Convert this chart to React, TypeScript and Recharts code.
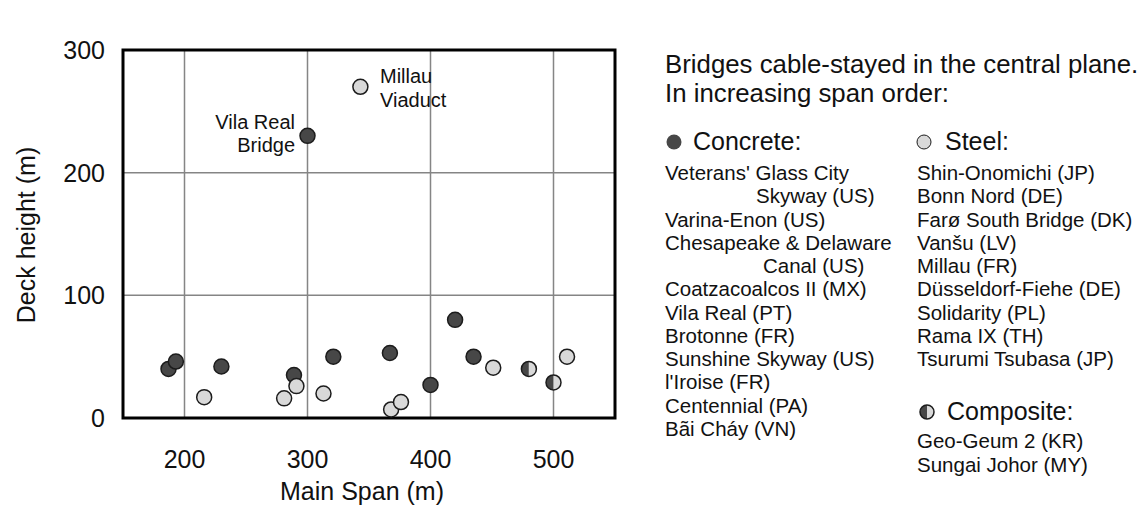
import React from "react";
import {
  ScatterChart,
  Scatter,
  XAxis,
  YAxis,
  CartesianGrid,
  ReferenceArea,
} from "recharts";

const FONT = '"Liberation Sans", Arial, sans-serif';
const DARK = "#474747";
const LIGHT = "#d9d9d9";
const EDGE = "#1c1c1c";

// main span (m) / deck height (m)
const concreteSpan = [187, 193, 230, 289, 300, 321, 367, 400, 420, 435];
const concreteHeight = [40, 46, 42, 35, 230, 50, 53, 27, 80, 50];
const steelSpan = [216, 281, 291, 313, 343, 368, 376, 451, 511];
const steelHeight = [17, 16, 26, 20, 270, 7, 13, 41, 50];
const compositeSpan = [480, 500];
const compositeHeight = [40, 29];

const xTicks = [200, 300, 400, 500];
const yTicks = [0, 100, 200, 300];

const concreteNames = [
  "Veterans' Glass City",
  "Varina-Enon (US)",
  "Chesapeake & Delaware",
  "Coatzacoalcos II (MX)",
  "Vila Real (PT)",
  "Brotonne (FR)",
  "Sunshine Skyway (US)",
  "l'Iroise (FR)",
  "Centennial (PA)",
  "Bãi Cháy (VN)",
];
const steelNames = [
  "Shin-Onomichi (JP)",
  "Bonn Nord (DE)",
  "Farø South Bridge (DK)",
  "Vanšu (LV)",
  "Millau (FR)",
  "Düsseldorf-Fiehe (DE)",
  "Solidarity (PL)",
  "Rama IX (TH)",
  "Tsurumi Tsubasa (JP)",
];
const compositeNames = ["Geo-Geum 2 (KR)", "Sungai Johor (MY)"];

const toPoints = (xs: number[], ys: number[]) =>
  xs.map((span, i) => ({ span, height: ys[i] }));

const concreteData = toPoints(concreteSpan, concreteHeight);
const steelData = toPoints(steelSpan, steelHeight);
const compositeData = toPoints(compositeSpan, compositeHeight);

const R = 7.5;

const Dot = ({ cx, cy, fill }: { cx?: number; cy?: number; fill: string }) => (
  <circle cx={cx} cy={cy} r={R} fill={fill} stroke={EDGE} strokeWidth={1.5} />
);

const HalfDot = ({ cx = 0, cy = 0, r = R }: { cx?: number; cy?: number; r?: number }) => (
  <g>
    <path d={`M${cx},${cy - r} A${r},${r} 0 0 0 ${cx},${cy + r} Z`} fill={DARK} />
    <path d={`M${cx},${cy - r} A${r},${r} 0 0 1 ${cx},${cy + r} Z`} fill={LIGHT} />
    <circle cx={cx} cy={cy} r={r} fill="none" stroke={EDGE} strokeWidth={1.5} />
  </g>
);

// wrapped names get an indented second line, as in the figure
const concreteLines: { text: string; x: number }[] = [];
concreteNames.forEach((n) => {
  concreteLines.push({ text: n, x: 665 });
  if (n.startsWith("Veterans")) concreteLines.push({ text: "Skyway (US)", x: 756 });
  if (n.startsWith("Chesapeake")) concreteLines.push({ text: "Canal (US)", x: 763 });
});

const LINE = 23.25;
const LIST_FS = 20.5;

const App = () => {
  return (
    <div style={{ position: "absolute", left: 0, top: 0, width: 1145, height: 508, background: "#fff" }}>
      <ScatterChart
        width={1145}
        height={508}
        margin={{ top: 50, right: 530, bottom: 30, left: 0 }}
        style={{ fontFamily: FONT }}
      >
        <CartesianGrid stroke="#858585" strokeWidth={1.5} />
        <XAxis
          type="number"
          dataKey="span"
          domain={[150, 550]}
          ticks={xTicks}
          height={60}
          axisLine={false}
          tickLine={false}
          tickSize={0}
          tickMargin={32}
          tick={{ fill: "#111", fontSize: 25, fontFamily: FONT }}
        />
        <YAxis
          type="number"
          dataKey="height"
          domain={[0, 300]}
          ticks={yTicks}
          width={123}
          axisLine={false}
          tickLine={false}
          tickSize={0}
          tickMargin={18}
          tick={{ fill: "#111", fontSize: 25, fontFamily: FONT }}
        />
        <ReferenceArea x1={150} x2={550} y1={0} y2={300} fill="none" stroke="#000" strokeWidth={3} />
        <Scatter data={concreteData} isAnimationActive={false} shape={(p: any) => <Dot cx={p.cx} cy={p.cy} fill={DARK} />} />
        <Scatter data={steelData} isAnimationActive={false} shape={(p: any) => <Dot cx={p.cx} cy={p.cy} fill={LIGHT} />} />
        <Scatter data={compositeData} isAnimationActive={false} shape={(p: any) => <HalfDot cx={p.cx} cy={p.cy} />} />
      </ScatterChart>

      <svg
        width={1145}
        height={508}
        style={{ position: "absolute", left: 0, top: 0, pointerEvents: "none" }}
        fontFamily={FONT}
        fill="#111"
      >
        {/* axis titles */}
        <text x={362} y={500} fontSize={25} textAnchor="middle">Main Span (m)</text>
        <text x={35} y={235} fontSize={25} textAnchor="middle" transform="rotate(-90 35 235)">Deck height (m)</text>

        {/* point annotations */}
        <text x={380} y={83} fontSize={20}>Millau</text>
        <text x={380} y={107} fontSize={20}>Viaduct</text>
        <text x={295} y={129} fontSize={20} textAnchor="end">Vila Real</text>
        <text x={295} y={152} fontSize={20} textAnchor="end">Bridge</text>

        {/* legend block */}
        <text x={665} y={73} fontSize={25.8}>Bridges cable-stayed in the central plane.</text>
        <text x={665} y={102} fontSize={25.8}>In increasing span order:</text>

        <circle cx={674} cy={142} r={7.5} fill={DARK} />
        <text x={693} y={150} fontSize={25}>Concrete:</text>
        {concreteLines.map((l, i) => (
          <text key={i} x={l.x} y={180 + i * LINE} fontSize={LIST_FS}>{l.text}</text>
        ))}

        <circle cx={924} cy={142} r={7} fill={LIGHT} stroke={EDGE} strokeWidth={1} />
        <text x={945} y={150} fontSize={25}>Steel:</text>
        {steelNames.map((n, i) => (
          <text key={i} x={917} y={180 + i * LINE} fontSize={LIST_FS}>{n}</text>
        ))}

        <HalfDot cx={927} cy={412} r={7} />
        <text x={947} y={420} fontSize={25}>Composite:</text>
        {compositeNames.map((n, i) => (
          <text key={i} x={917} y={448 + i * 24} fontSize={LIST_FS}>{n}</text>
        ))}
      </svg>
    </div>
  );
};

export default App;
